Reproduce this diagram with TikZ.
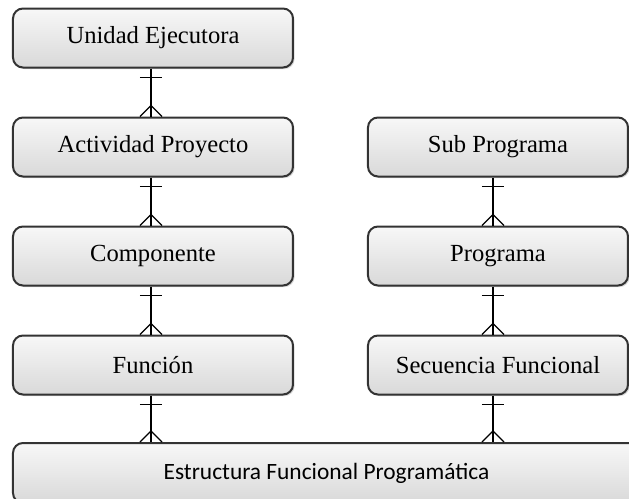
\documentclass[tikz,border=0pt]{standalone}
\usepackage{fontspec}
\setmainfont{Liberation Serif}
\newfontfamily\calibri{Carlito}
\usetikzlibrary{calc,shadows}

% one (bar) to many (crow's foot)
\newcommand{\unoamuchos}[3]{%
\draw[enlace] (#1.south -| #3) -- (#2.north -| #3);
\draw[enlace] ($(#1.south -| #3)+(-11,9)$) -- ++(22,0);
\draw[enlace] ($(#2.north -| #3)+(-11,0)$) -- ($(#2.north -| #3)+(0,-11)$) -- ($(#2.north -| #3)+(11,0)$);
}

\begin{document}
\begin{tikzpicture}[x=0.5pt,y=-0.5pt]
\tikzstyle{entidad}=[draw=black!80,line width=1pt,rounded corners=5pt,
  top color=gray!6,bottom color=gray!30,
  drop shadow={shadow xshift=0.8pt,shadow yshift=-0.8pt,opacity=0.3},
  font=\fontsize{12.3}{14}\selectfont,inner sep=0pt]
\tikzstyle{izq}=[entidad,minimum width=140pt,minimum height=29.5pt]
\tikzstyle{der}=[entidad,minimum width=130pt,minimum height=29.5pt]
\tikzstyle{enlace}=[line width=0.6pt,black]

\useasboundingbox (0,0) rectangle (629,499);

\coordinate (colL) at (151,0);
\coordinate (colR) at (493,0);

% columna izquierda
\node[izq] (unidad) at (153,38) {Unidad Ejecutora};
\node[izq] (actividad) at (153,147) {Actividad Proyecto};
\node[izq] (componente) at (153,256) {Componente};
\node[izq] (funcion) at (153,365) {Función};

% columna derecha
\node[der] (subprograma) at (498,147) {Sub Programa};
\node[der] (programa) at (498,256) {Programa};
\node[der] (secuencia) at (498,365) {Secuencia Funcional};

% abajo
\node[entidad,minimum width=313.5pt,minimum height=30pt,
  font=\calibri\fontsize{11.7}{14}\selectfont] (estructura) at (326.5,473)
  {Estructura Funcional Programática};

\unoamuchos{unidad}{actividad}{colL}
\unoamuchos{actividad}{componente}{colL}
\unoamuchos{componente}{funcion}{colL}
\unoamuchos{funcion}{estructura}{colL}
\unoamuchos{subprograma}{programa}{colR}
\unoamuchos{programa}{secuencia}{colR}
\unoamuchos{secuencia}{estructura}{colR}

\end{tikzpicture}
\end{document}
